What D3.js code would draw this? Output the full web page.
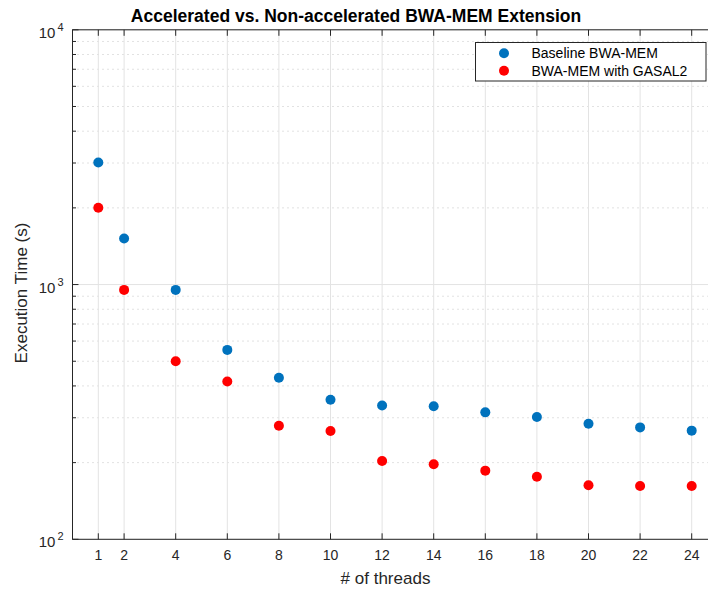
<!DOCTYPE html>
<html lang="en">
<head>
<meta charset="UTF-8">
<title>Accelerated vs. Non-accelerated BWA-MEM Extension</title>
<script src="https://d3js.org/d3.v7.min.js"></script>
<style>
  body { margin: 0; background: #fff; }
  text { font-family: "Liberation Sans", Arial, Helvetica, sans-serif; fill: #262626; }
</style>
</head>
<body>
<svg id="canvas" width="708" height="592"></svg>
<script>
// thread counts and measured execution times (s)
const threads  = [1, 2, 4, 6, 8, 10, 12, 14, 16, 18, 20, 22, 24];
const baseline = [3015, 1516, 953, 554, 431, 353, 335, 333, 315, 302, 284, 275, 267];
const gasal2   = [2002, 953, 500, 416, 279, 266, 203, 197, 186, 176, 163, 162, 162];
const xTicks = [1, 2, 4, 6, 8, 10, 12, 14, 16, 18, 20, 22, 24];
const yMajor = [100, 1000, 10000];
const seriesNames = ["Baseline BWA-MEM", "BWA-MEM with GASAL2"];
const seriesColors = ["#0072BD", "#FF0000"];

const svg = d3.select("#canvas");
const pL = 72.5, pR = 717.5, pT = 29.8, pB = 539.3;

const x = d3.scaleLinear().domain([0, 25]).range([pL, pR]);
const y = d3.scaleLog().domain([100, 10000]).range([pB, pT]);

// minor y values 2..9 per decade
const yMinor = [];
[100, 1000].forEach(function(d) {
  for (let k = 2; k <= 9; k++) yMinor.push(d * k);
});

// grid
const grid = svg.append("g");
grid.selectAll(".minor").data(yMinor).enter().append("line")
  .attr("x1", pL).attr("x2", pR)
  .attr("y1", d => y(d)).attr("y2", d => y(d))
  .attr("stroke", "#c4c4c4").attr("stroke-width", 1)
  .attr("stroke-dasharray", "1,4");
grid.selectAll(".vx").data(xTicks).enter().append("line")
  .attr("x1", d => x(d)).attr("x2", d => x(d))
  .attr("y1", pT).attr("y2", pB)
  .attr("stroke", "#e3e3e3").attr("stroke-width", 1);
grid.selectAll(".hy").data(yMajor).enter().append("line")
  .attr("x1", pL).attr("x2", pR)
  .attr("y1", d => y(d)).attr("y2", d => y(d))
  .attr("stroke", "#e3e3e3").attr("stroke-width", 1);

// axes box and ticks (inward, MATLAB style)
const ax = svg.append("g").attr("stroke", "#262626").attr("stroke-width", 1);
ax.append("rect").attr("x", pL).attr("y", pT)
  .attr("width", pR - pL).attr("height", pB - pT)
  .attr("fill", "none");
xTicks.forEach(function(t) {
  ax.append("line").attr("x1", x(t)).attr("x2", x(t)).attr("y1", pB).attr("y2", pB - 6);
  ax.append("line").attr("x1", x(t)).attr("x2", x(t)).attr("y1", pT).attr("y2", pT + 6);
});
yMajor.forEach(function(t) {
  ax.append("line").attr("x1", pL).attr("x2", pL + 6).attr("y1", y(t)).attr("y2", y(t));
});
yMinor.forEach(function(t) {
  ax.append("line").attr("x1", pL).attr("x2", pL + 3.5).attr("y1", y(t)).attr("y2", y(t));
});

// x tick labels
svg.append("g").selectAll("text").data(xTicks).enter().append("text")
  .attr("x", d => x(d)).attr("y", 560)
  .attr("text-anchor", "middle").attr("font-size", 14)
  .text(d => d);

// y tick labels 10^n
yMajor.forEach(function(t) {
  const g = svg.append("text").attr("x", 63.5).attr("y", y(t) + 8)
    .attr("text-anchor", "end").attr("font-size", 15);
  g.append("tspan").text("10");
  g.append("tspan").attr("font-size", 11).attr("dx", 2).attr("dy", -7)
    .text(Math.round(Math.log10(t)));
});

// axis labels and title
svg.append("text").attr("x", 385.5).attr("y", 584)
  .attr("text-anchor", "middle").attr("font-size", 17).text("# of threads");
svg.append("text").attr("transform", "translate(27,293) rotate(-90)")
  .attr("text-anchor", "middle").attr("font-size", 17).text("Execution Time (s)");
svg.append("text").attr("x", 356).attr("y", 22)
  .attr("text-anchor", "middle").attr("font-size", 17.5).attr("font-weight", "bold")
  .style("fill", "#000")
  .text("Accelerated vs. Non-accelerated BWA-MEM Extension");

// markers
[baseline, gasal2].forEach(function(vals, i) {
  svg.append("g").selectAll("circle").data(threads).enter().append("circle")
    .attr("cx", d => x(d))
    .attr("cy", (d, j) => y(vals[j]))
    .attr("r", 5)
    .attr("fill", seriesColors[i]);
});

// legend
const lg = svg.append("g");
lg.append("rect").attr("x", 475.5).attr("y", 42.5).attr("width", 230.5).attr("height", 38.5)
  .attr("fill", "#fff").attr("stroke", "#262626").attr("stroke-width", 1);
seriesNames.forEach(function(n, i) {
  lg.append("circle").attr("cx", 504).attr("cy", 53.3 + i * 17.5).attr("r", 5).attr("fill", seriesColors[i]);
  lg.append("text").attr("x", 531.5).attr("y", 58.3 + i * 17.7).attr("font-size", 14)
    .style("fill", "#000").text(n);
});
</script>
</body>
</html>
